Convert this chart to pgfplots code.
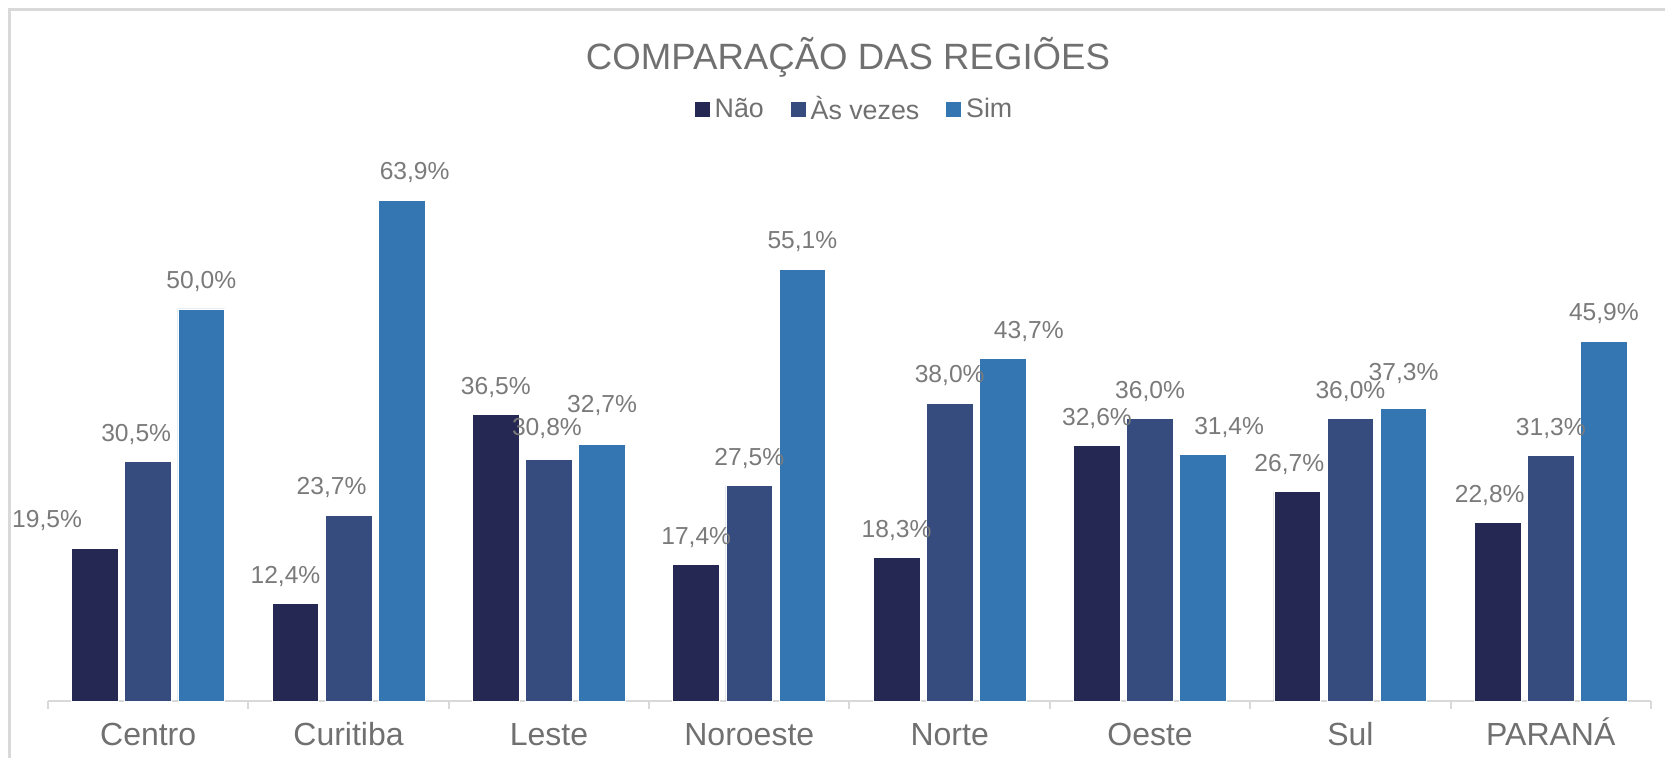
\documentclass[border=0pt]{standalone}
\usepackage{pgfplots}
\pgfplotsset{compat=1.18}
\usepackage{pgfplotstable}
\usepackage{fontspec}
\setmainfont{Liberation Sans}
\definecolor{cNao}{RGB}{37,40,82}
\definecolor{cAs}{RGB}{54,76,126}
\definecolor{cSim}{RGB}{52,118,178}
\definecolor{txt}{RGB}{112,112,112}
\definecolor{lbl}{RGB}{122,122,122}
\definecolor{axl}{RGB}{217,217,217}

\pgfplotstableread{
x y dx dy
0 19.5 -24 0
1 12.4 -5 0
2 36.5 0 0
3 17.4 0 0
4 18.3 0 0
5 32.6 0 0
6 26.7 -4 0
7 22.8 -4 0
}\tNao
\pgfplotstableread{
x y dx dy
0 30.5 -6 0
1 23.7 -8.5 0
2 30.8 -1 2
3 27.5 0 0
4 38.0 0 0
5 36.0 0 0
6 36.0 0 0
7 31.3 0 0
}\tAs
\pgfplotstableread{
x y dx dy
0 50.0 0 0
1 63.9 6.5 0
2 32.7 0 6
3 55.1 0 0
4 43.7 13 0
5 31.4 13 0
6 37.3 0 4
7 45.9 0 0
}\tSim

\begin{document}
\begin{tikzpicture}
\useasboundingbox (-24pt,-28.5pt) rectangle (808.5pt,350.5pt);
\begin{axis}[
  scale only axis, width=801.5pt, height=274.4pt,
  xmin=-0.5, xmax=7.5, ymin=0, ymax=70,
  ybar=3.2pt, bar width=23.35pt,
  axis x line*=bottom, axis y line=none,
  x axis line style={draw=axl, line width=1pt, -},
  xtick={0,...,7},
  xticklabels={Centro,Curitiba,Leste,Noroeste,Norte,Oeste,Sul,PARAN\'A},
  major x tick style={draw=none},
  extra x ticks={-0.5,0.5,...,7.5},
  extra x tick labels={},
  extra x tick style={major tick length=4pt, tick align=outside, major x tick style={draw=axl, line width=1pt}},
  xticklabel style={font=\fontsize{16}{18}\selectfont, text=txt, anchor=base, yshift=-17.8pt},
  ytick=\empty,
  nodes near coords={\pgfmathprintnumber[fixed,fixed zerofill,precision=1,use comma,assume math mode=true]{\pgfplotspointmeta}\%},
  visualization depends on={\thisrow{dx} \as \dx},
  visualization depends on={\thisrow{dy} \as \dy},
  nodes near coords style={font=\fontsize{12.3}{14}\selectfont, text=lbl, anchor=center, xshift=\dx*1pt, yshift=13.6pt+\dy*1pt},
  legend style={at={(0.5035,1.0787)}, anchor=center, draw=none, fill=none,
    legend columns=3, font=\fontsize{13.4}{15}\selectfont, text=txt,
    /tikz/every even column/.append style={column sep=11pt}},
  legend image code/.code={\fill[#1] (-2pt,-4pt) rectangle (6pt,4pt);},
  clip=false,
]
\addplot[fill=cNao, draw=white, line width=0.4pt] table[x=x,y=y] {\tNao};
\addplot[fill=cAs, draw=white, line width=0.4pt] table[x=x,y=y] {\tAs};
\addplot[fill=cSim, draw=white, line width=0.4pt] table[x=x,y=y] {\tSim};
\legend{N\~ao,\`As vezes,Sim}
\end{axis}
\node[font=\fontsize{18.3}{21}\selectfont, text=txt] at (400pt,322pt) {COMPARA\c{C}\~AO DAS REGI\~OES};
\draw[axl, line width=1.5pt] (-19.25pt,-28.5pt) -- (-19.25pt,345.75pt) -- (808.5pt,345.75pt);
\end{tikzpicture}
\end{document}
